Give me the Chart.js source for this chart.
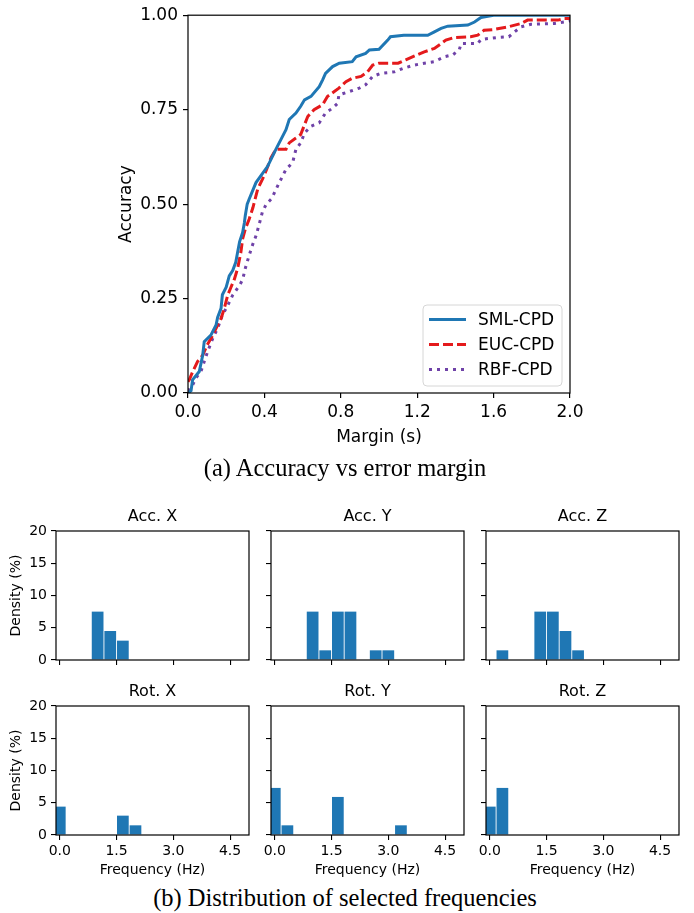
<!DOCTYPE html>
<html><head><meta charset="utf-8">
<script src="https://cdn.jsdelivr.net/npm/chart.js@4.4.1/dist/chart.umd.min.js"></script>
<style>
html,body{margin:0;padding:0;background:#fff;}
body{width:694px;height:913px;position:relative;overflow:hidden;font-family:"DejaVu Sans";}
canvas{position:absolute;}
.cap{position:absolute;left:0;width:690px;text-align:center;font-family:"Liberation Serif";font-size:24.5px;color:#000;line-height:28px;white-space:nowrap;}
</style></head><body>
<canvas id="main" width="694" height="460" style="left:0;top:0;width:694px;height:460px"></canvas>
<div class="cap" style="top:454px">(a) Accuracy vs error margin</div>
<div class="cap" style="top:884px">(b) Distribution of selected frequencies</div>
<script>
// ---------- Main chart data (Margin in s, Accuracy) ----------
const smlX = [0, 0.016, 0.024, 0.059, 0.077, 0.085, 0.12, 0.147, 0.155, 0.173, 0.18, 0.20, 0.216, 0.234, 0.25, 0.26, 0.27, 0.286, 0.295, 0.30, 0.31, 0.32, 0.356, 0.417, 0.46, 0.513, 0.53, 0.565, 0.59, 0.61, 0.644, 0.687, 0.705, 0.72, 0.757, 0.792, 0.86, 0.88, 0.93, 0.95, 1.0, 1.046, 1.06, 1.13, 1.255, 1.29, 1.325, 1.36, 1.465, 1.5, 1.534, 1.57, 1.6, 2.0];
const smlY = [0, 0.006, 0.035, 0.057, 0.10, 0.136, 0.153, 0.18, 0.20, 0.224, 0.26, 0.28, 0.31, 0.324, 0.346, 0.373, 0.40, 0.425, 0.45, 0.47, 0.50, 0.513, 0.557, 0.60, 0.645, 0.697, 0.724, 0.741, 0.759, 0.776, 0.785, 0.811, 0.829, 0.846, 0.864, 0.873, 0.877, 0.89, 0.899, 0.908, 0.91, 0.934, 0.943, 0.947, 0.947, 0.956, 0.965, 0.971, 0.974, 0.982, 0.994, 0.997, 1.0, 1.0];
const eucX = [0, 0.007, 0.025, 0.05, 0.077, 0.10, 0.13, 0.155, 0.173, 0.19, 0.208, 0.225, 0.242, 0.26, 0.277, 0.286, 0.30, 0.32, 0.34, 0.365, 0.39, 0.41, 0.435, 0.46, 0.513, 0.53, 0.565, 0.59, 0.61, 0.627, 0.66, 0.705, 0.73, 0.766, 0.79, 0.827, 0.86, 0.906, 0.94, 0.967, 1.0, 1.10, 1.14, 1.2, 1.237, 1.29, 1.35, 1.394, 1.48, 1.517, 1.55, 1.6, 1.674, 1.743, 1.778, 1.936, 1.97, 2.0];
const eucY = [0.03, 0.035, 0.057, 0.083, 0.10, 0.127, 0.153, 0.18, 0.197, 0.224, 0.259, 0.28, 0.30, 0.33, 0.373, 0.408, 0.434, 0.46, 0.491, 0.54, 0.566, 0.59, 0.623, 0.645, 0.645, 0.662, 0.675, 0.684, 0.71, 0.732, 0.75, 0.763, 0.785, 0.798, 0.807, 0.824, 0.833, 0.838, 0.85, 0.868, 0.873, 0.873, 0.882, 0.895, 0.903, 0.912, 0.934, 0.941, 0.943, 0.947, 0.96, 0.962, 0.969, 0.978, 0.987, 0.987, 0.991, 0.991];
const rbfX = [0, 0.025, 0.042, 0.068, 0.085, 0.103, 0.13, 0.155, 0.18, 0.208, 0.234, 0.27, 0.286, 0.30, 0.32, 0.34, 0.356, 0.373, 0.39, 0.41, 0.435, 0.443, 0.478, 0.513, 0.548, 0.565, 0.59, 0.61, 0.644, 0.687, 0.72, 0.757, 0.784, 0.79, 0.845, 0.897, 0.93, 0.967, 1.01, 1.08, 1.13, 1.185, 1.237, 1.29, 1.342, 1.386, 1.42, 1.43, 1.517, 1.534, 1.62, 1.68, 1.71, 1.743, 1.796, 1.918, 1.97, 2.0];
const rbfY = [0.005, 0.022, 0.04, 0.057, 0.083, 0.11, 0.145, 0.171, 0.206, 0.232, 0.259, 0.285, 0.30, 0.33, 0.364, 0.395, 0.416, 0.447, 0.48, 0.50, 0.513, 0.52, 0.557, 0.592, 0.61, 0.645, 0.662, 0.688, 0.706, 0.715, 0.741, 0.754, 0.767, 0.789, 0.798, 0.807, 0.816, 0.838, 0.846, 0.85, 0.86, 0.868, 0.873, 0.877, 0.89, 0.895, 0.908, 0.925, 0.925, 0.936, 0.941, 0.943, 0.956, 0.969, 0.976, 0.978, 0.982, 0.985];
const seriesNames = ['SML-CPD', 'EUC-CPD', 'RBF-CPD'];
const marginTicks = [0, 0.4, 0.8, 1.2, 1.6, 2.0];
const accTicks = [0, 0.25, 0.5, 0.75, 1.0];

// ---------- Histogram data (Density %, per frequency bin in Hz) ----------
const freqBins = [0, 0.3333, 0.6667, 1, 1.3333, 1.6667, 2, 2.3333, 2.6667, 3, 3.3333, 3.6667, 4, 4.3333, 4.6667];
const accX = [0, 0, 0, 7.5, 4.5, 3.0, 0, 0, 0, 0, 0, 0, 0, 0, 0];
const accY = [0, 0, 0, 7.5, 1.5, 7.5, 7.5, 0, 1.5, 1.5, 0, 0, 0, 0, 0];
const accZ = [0, 1.5, 0, 0, 7.5, 7.5, 4.5, 1.5, 0, 0, 0, 0, 0, 0, 0];
const rotX = [4.4, 0, 0, 0, 0, 3.0, 1.5, 0, 0, 0, 0, 0, 0, 0, 0];
const rotY = [7.3, 1.5, 0, 0, 0, 5.9, 0, 0, 0, 0, 1.5, 0, 0, 0, 0];
const rotZ = [4.4, 7.3, 0, 0, 0, 0, 0, 0, 0, 0, 0, 0, 0, 0, 0];
const panelTitles = ['Acc. X', 'Acc. Y', 'Acc. Z', 'Rot. X', 'Rot. Y', 'Rot. Z'];
const freqTicks = [0, 1.5, 3.0, 4.5];
const densityTicks = [0, 5, 10, 15, 20];

// ---------- Common ----------
Chart.defaults.font.family = 'DejaVu Sans';
Chart.defaults.color = '#000';
Chart.defaults.animation = false;
Chart.defaults.responsive = false;
Chart.defaults.devicePixelRatio = 1;

const frame = {id:'frame', afterDatasetsDraw(c){
  const a=c.chartArea, ctx=c.ctx; ctx.save();
  ctx.strokeStyle='#000'; ctx.lineWidth=1.2;
  ctx.strokeRect(a.left, a.top, a.right-a.left, a.bottom-a.top);
  ctx.restore();
}};

const boxLegend = {id:'boxLegend', afterDraw(c){
  const ctx=c.ctx; ctx.save();
  const x0=423, y0=305, w=139, h=81, r=4;
  ctx.beginPath();
  ctx.moveTo(x0+r,y0); ctx.lineTo(x0+w-r,y0); ctx.arcTo(x0+w,y0,x0+w,y0+r,r);
  ctx.lineTo(x0+w,y0+h-r); ctx.arcTo(x0+w,y0+h,x0+w-r,y0+h,r);
  ctx.lineTo(x0+r,y0+h); ctx.arcTo(x0,y0+h,x0,y0+h-r,r);
  ctx.lineTo(x0,y0+r); ctx.arcTo(x0,y0,x0+r,y0,r); ctx.closePath();
  ctx.fillStyle='rgba(255,255,255,0.8)'; ctx.fill();
  ctx.strokeStyle='#d6d6d6'; ctx.lineWidth=1; ctx.stroke();
  c.data.datasets.forEach((d,i)=>{
    const y=319.5+i*25;
    ctx.strokeStyle=d.borderColor; ctx.lineWidth=d.borderWidth; ctx.lineCap='butt';
    ctx.setLineDash(d.borderDash||[]);
    ctx.beginPath(); ctx.moveTo(429,y); ctx.lineTo(466,y); ctx.stroke();
    ctx.setLineDash([]);
    ctx.fillStyle='#000'; ctx.font='17px "DejaVu Sans"'; ctx.textBaseline='middle'; ctx.textAlign='left';
    ctx.fillText(d.label, 478, y+1);
  });
  ctx.restore();
}};

function pts(xs, ys){ return xs.map((x,i)=>({x:x, y:ys[i]})); }

new Chart(document.getElementById('main'), {
  type:'line',
  data:{datasets:[
    {label:seriesNames[0], data:pts(smlX,smlY), borderColor:'#1f77b4', borderWidth:3, pointRadius:0, tension:0, fill:false},
    {label:seriesNames[1], data:pts(eucX,eucY), borderColor:'#e41a1c', borderWidth:3, borderDash:[10,4], pointRadius:0, tension:0, fill:false},
    {label:seriesNames[2], data:pts(rbfX,rbfY), borderColor:'#6f42a8', borderWidth:3, borderDash:[3,5], pointRadius:0, tension:0, fill:false}
  ]},
  options:{
    layout:{padding:{left:116, top:15, right:124, bottom:12}},
    plugins:{legend:{display:false}, tooltip:{enabled:false}},
    scales:{
      x:{type:'linear', min:0, max:2,
        afterBuildTicks(s){ s.ticks = marginTicks.map(v=>({value:v})); },
        afterFit(s){ s.height = 55; },
        ticks:{font:{size:17}, padding:4, maxRotation:0, autoSkip:false, callback:v=>Number(v).toFixed(1)},
        grid:{display:true, drawOnChartArea:false, drawTicks:true, tickLength:5, color:'#000', lineWidth:1.2},
        border:{display:false},
        title:{display:true, text:'Margin (s)', font:{size:17}, padding:0}
      },
      y:{type:'linear', min:0, max:1,
        afterBuildTicks(s){ s.ticks = accTicks.map(v=>({value:v})); },
        afterFit(s){ s.width = 72; },
        ticks:{font:{size:17}, padding:5, callback:v=>Number(v).toFixed(2)},
        grid:{display:true, drawOnChartArea:false, drawTicks:true, tickLength:5, color:'#000', lineWidth:1.2},
        border:{display:false},
        title:{display:true, text:'Accuracy', font:{size:17}, padding:0}
      }
    }
  },
  plugins:[frame, boxLegend]
});

// ---------- Histograms ----------
const panelData = [accX, accY, accZ, rotX, rotY, rotZ];
const colLeft = [56, 271, 486];
const rowTop = [531, 706];
const CW = 193, CH = 129;

panelData.forEach((vals, i)=>{
  const r = Math.floor(i/3), c = i%3;
  const CL = colLeft[c], CT = rowTop[r];
  const cv = document.createElement('canvas');
  const W = 260;
  const H = r===0 ? 184 : 219;
  cv.width = W; cv.height = H;
  cv.style.left = (CL-56)+'px'; cv.style.top = (CT-40)+'px';
  cv.style.width = W+'px'; cv.style.height = H+'px';
  document.body.appendChild(cv);
  const bottomRow = r===1, leftCol = c===0;
  const xH = bottomRow ? 43.4 : 10;
  const padBottom = H - 40 - CH - xH;
  const titlePlugin = {id:'ptitle', afterDraw(ch){
    const ctx=ch.ctx; ctx.save();
    ctx.font='16px "DejaVu Sans"'; ctx.fillStyle='#000'; ctx.textAlign='center'; ctx.textBaseline='middle';
    ctx.fillText(panelTitles[i], (ch.chartArea.left+ch.chartArea.right)/2, ch.chartArea.top-14);
    ctx.restore();
  }};
  new Chart(cv, {
    type:'bar',
    data:{datasets:[{data:pts(freqBins, vals), backgroundColor:'#1f77b4', borderWidth:0, barPercentage:0.93, categoryPercentage:1}]},
    options:{
      layout:{padding:{left:8, top:40, right:W-56-CW, bottom:padBottom}},
      plugins:{legend:{display:false}, tooltip:{enabled:false}, title:{display:false}},
      scales:{
        x:{type:'linear', min:-0.1, max:5.0, offset:false,
          afterBuildTicks(s){ s.ticks = freqTicks.map(v=>({value:v})); },
          afterFit(s){ s.height = xH; },
          ticks:{display:bottomRow, font:{size:14}, padding:3, maxRotation:0, autoSkip:false, callback:v=>Number(v).toFixed(1)},
          grid:{display:true, offset:false, drawOnChartArea:false, drawTicks:true, tickLength:5, color:'#000', lineWidth:1.1},
          border:{display:false},
          title:{display:bottomRow, text:'Frequency (Hz)', font:{size:14}, padding:0}
        },
        y:{type:'linear', min:0, max:20,
          afterBuildTicks(s){ s.ticks = densityTicks.map(v=>({value:v})); },
          afterFit(s){ s.width = 48; },
          ticks:{display:leftCol, font:{size:14}, padding:4},
          grid:{display:true, offset:false, drawOnChartArea:false, drawTicks:true, tickLength:5, color:'#000', lineWidth:1.1},
          border:{display:false},
          title:{display:leftCol, text:'Density (%)', font:{size:14}, padding:0}
        }
      }
    },
    plugins:[frame, titlePlugin]
  });
});
</script>
</body></html>
